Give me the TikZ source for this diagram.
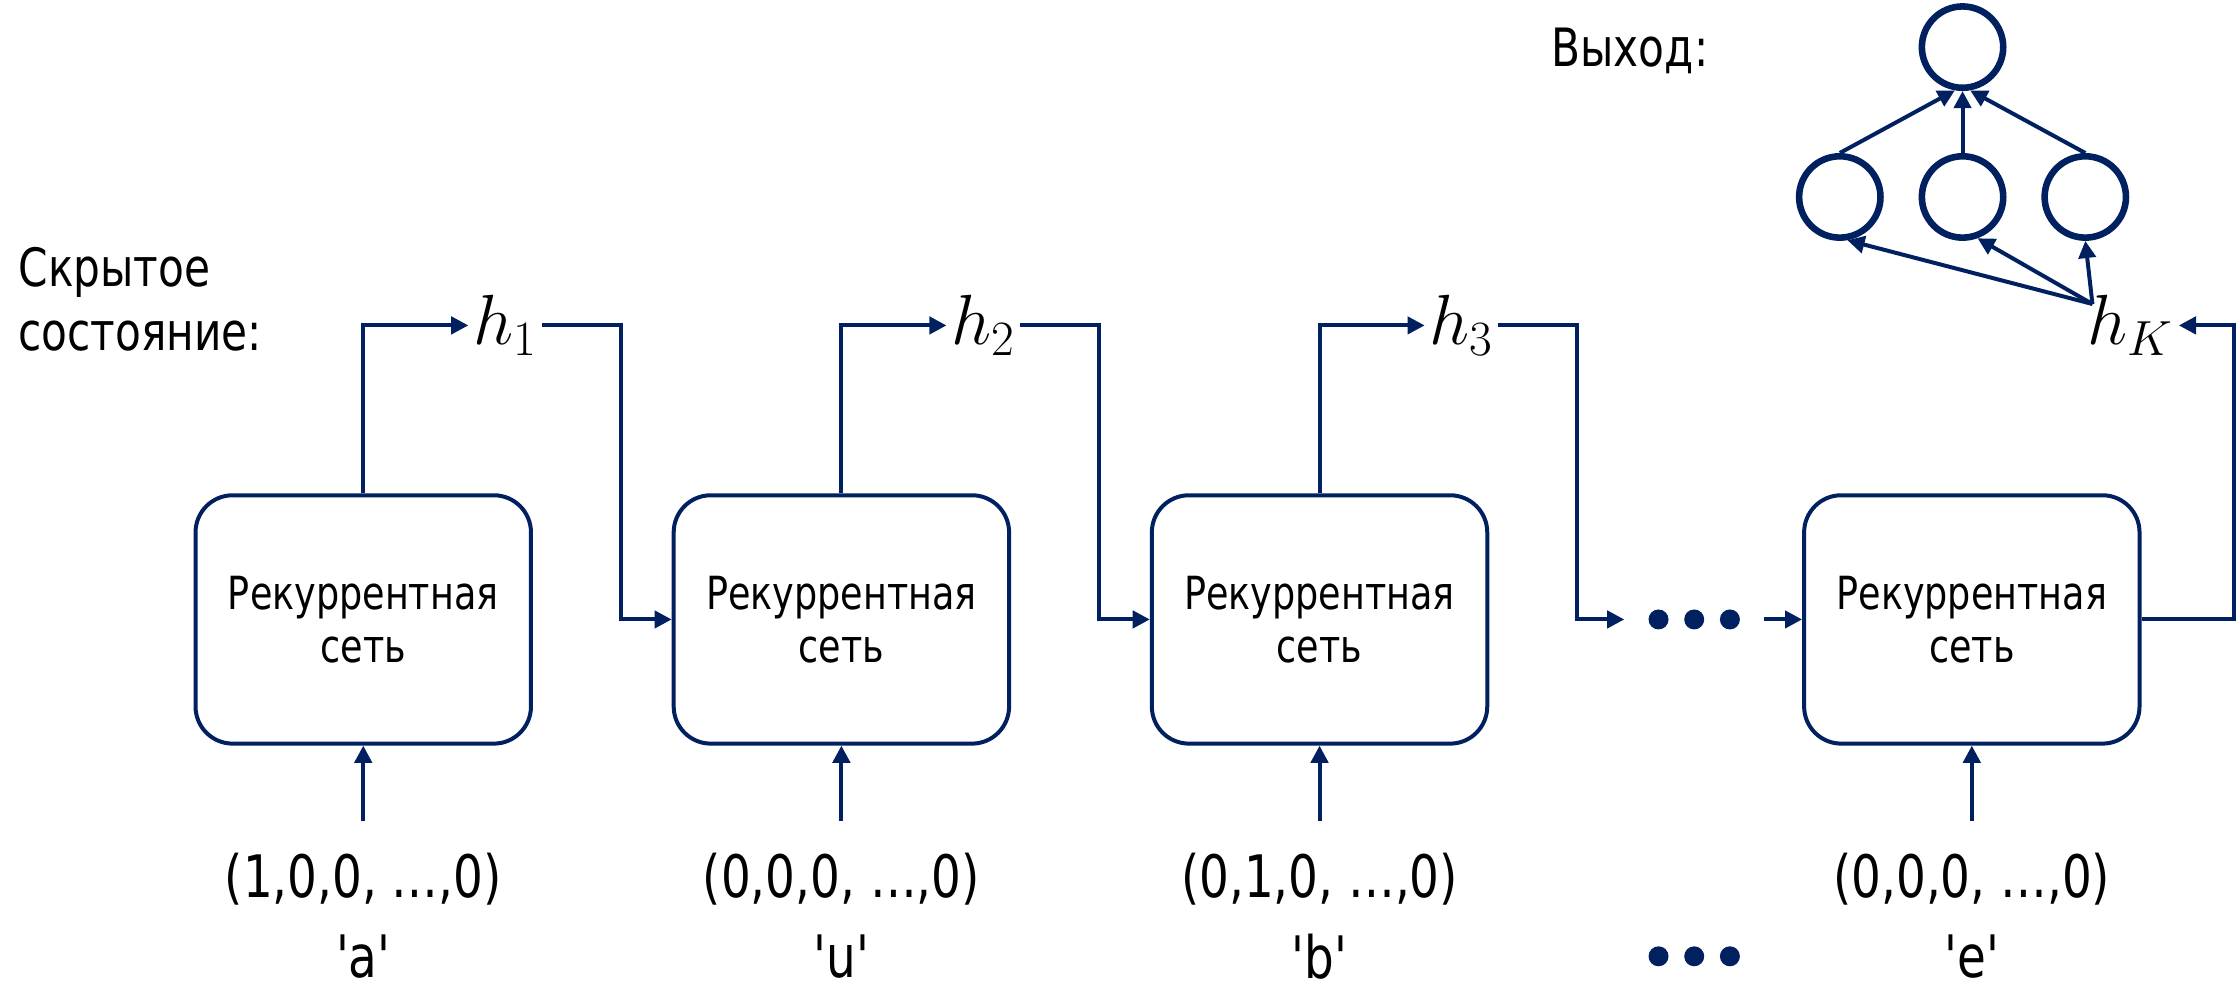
\documentclass[tikz,border=0pt]{standalone}
\usepackage{fontspec}
\setmainfont{DejaVu Sans}[FakeStretch=0.8]
\newfontfamily\qf{DejaVu Sans}[FakeStretch=0.8]
\usetikzlibrary{arrows.meta,calc}
\definecolor{navy}{RGB}{0,32,96}
\begin{document}
\begin{tikzpicture}[x=0.5pt,y=-0.5pt,
  box/.style={draw=navy,line width=1.4pt,rounded corners=13pt,minimum width=117.5pt,minimum height=87pt,align=center,font=\fontsize{16}{18.5}\selectfont},
  arr/.style={draw=navy,line width=1.4pt,-{Triangle[length=6pt,width=6pt]}},
  ln/.style={draw=navy,line width=1.4pt},
  neur/.style={circle,draw=navy,line width=2.3pt,minimum size=28.5pt,inner sep=0pt},
  dot/.style={circle,fill=navy,minimum size=7pt,inner sep=0pt},
  vec/.style={font=\fontsize{20.5}{22}\selectfont},
  lbl/.style={font=\qf\fontsize{20.5}{22}\selectfont},
  hl/.style={inner sep=1.5pt,font=\fontsize{23}{24}\selectfont},
  txt/.style={font=\fontsize{18.5}{22.5}\selectfont,align=left}]
\useasboundingbox (0,0) rectangle (1568,700);
% boxes
\node[box] (b1) at (254.5,434) {Рекуррентная\\сеть};
\node[box] (b2) at (589.5,434) {Рекуррентная\\сеть};
\node[box] (b3) at (924.5,434) {Рекуррентная\\сеть};
\node[box] (b4) at (1381.5,434) {Рекуррентная\\сеть};
% hidden states
\node[hl] (h1) at (354,228) {$h_1$};
\node[hl] (h2) at (689,228) {$h_2$};
\node[hl] (h3) at (1024,228) {$h_3$};
\node[hl] (hK) at (1493,228) {$h_K$};
% dots
\node[dot] (d1) at (1162,434) {};
\node[dot] (d2) at (1187,434) {};
\node[dot] (d3) at (1212,434) {};
\node[dot] (e1) at (1162,670) {};
\node[dot] (e2) at (1187,670) {};
\node[dot] (e3) at (1212,670) {};
% labels
\node[txt,anchor=north west] (hs) at (6,166) {Скрытое\\состояние:};
\node[txt,anchor=west] (out) at (1080,36) {Выход:};
% inputs
\foreach \i/\x/\v/\c in {1/254.5/{(1,0,0, …,0)}/a, 2/589.5/{(0,0,0, …,0)}/u, 3/924.5/{(0,1,0, …,0)}/b, 4/1381.5/{(0,0,0, …,0)}/e}{
  \coordinate (s\i) at (\x,575);
  \node[vec] (v\i) at (\x,616) {\v};
  \node[lbl] (l\i) at (\x,670) {'\c'};
  \draw[arr] (s\i) -- (b\i.south);
}
% b -> h
\draw[arr] (b1.north) |- (h1.west);
\draw[arr] (b2.north) |- (h2.west);
\draw[arr] (b3.north) |- (h3.west);
% h -> next
\draw[arr] (h1.east) -| (435,434) -- (b2.west);
\draw[arr] (h2.east) -| (770,434) -- (b3.west);
\draw[arr,shorten >=12pt] (h3.east) -| (1105,434) -- (d1.center);
\draw[arr,shorten <=12pt] (d3.center) -- (b4.west);
\draw[arr] (b4.east) -- (1565,434) |- (hK.east);
% output network
\node[neur] (t) at (1375,33) {};
\node[neur] (m1) at (1289,138) {};
\node[neur] (m2) at (1375,138) {};
\node[neur] (m3) at (1461,138) {};
\draw[arr] (m1.north) -- (t.-100);
\draw[arr] (m2.north) -- (t.south);
\draw[arr] (m3.north) -- (t.-80);
\coordinate (hk0) at (1466,213);
\draw[arr] (hk0) -- (m1.-80);
\draw[arr] (hk0) -- (m2.-70);
\draw[arr] (hk0) -- (m3.south);
\end{tikzpicture}
\end{document}
